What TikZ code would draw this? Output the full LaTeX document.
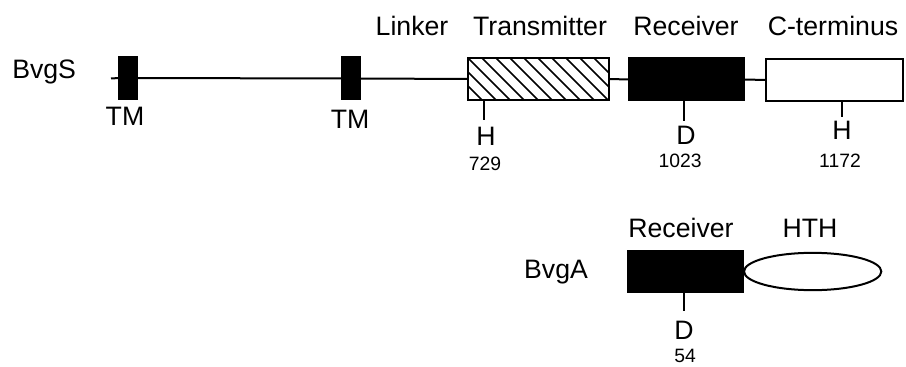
\documentclass[tikz,border=0pt]{standalone}
\usepackage{fontspec}
\setmainfont{Liberation Sans}
\usetikzlibrary{shapes.geometric}
\begin{document}
\begin{tikzpicture}[x=0.75pt,y=-0.75pt,
  lbl/.style={font=\fontsize{20}{24}\selectfont,inner sep=0pt,anchor=base},
  num/.style={font=\fontsize{14.5}{17}\selectfont,inner sep=0pt,anchor=base},
  dom/.style={draw,line width=1.5pt,inner sep=0pt,outer sep=0pt},
  blk/.style={dom,fill=black},
  tick/.style={line width=1.5pt},
  bb/.style={line width=1.5pt}]
\useasboundingbox (0,0) rectangle (906,367);
% BvgS
\node[lbl,anchor=base west] (bvgs) at (12,79) {BvgS};
\coordinate (start) at (111,78.5);
\node[blk,minimum width=13.5pt,minimum height=31.5pt] (tm1) at (128,78) {};
\node[blk,minimum width=13.5pt,minimum height=31.5pt] (tm2) at (351,78.5) {};
\node[dom,fill=white,minimum width=105.75pt,minimum height=31.5pt] (trans) at (538.5,79) {};
\node[blk,minimum width=86.25pt,minimum height=31.5pt] (rec) at (686.5,79.5) {};
\node[dom,fill=white,minimum width=102.75pt,minimum height=31.5pt] (cterm) at (834.5,80) {};
\draw[bb] (start) -- (tm1.west);
\draw[bb] (tm1.east) -- (tm2.west);
\draw[bb] (tm2.east) -- (trans.west);
\draw[bb] (trans.east) -- (rec.west);
\draw[bb] (rec.east) -- (cterm.west);
% hatch
\begin{scope}
\clip (trans.south west) rectangle (trans.north east);
\foreach \i in {-4,...,10} \draw[line width=1.2pt] ([xshift=\i*10.5pt]trans.north west) -- ++(44,44);
\end{scope}
\draw[line width=1.5pt] (trans.south west) rectangle (trans.north east);
% labels
\node[lbl] (linker) at (412,36) {Linker};
\node[lbl] (translbl) at (540,36) {Transmitter};
\node[lbl] (reclbl) at (686,36) {Receiver};
\node[lbl] (ctermlbl) at (833,36) {C-terminus};
\node[lbl] (tm1lbl) at (125,126) {TM};
\node[lbl] (tm2lbl) at (350,129) {TM};
% ticks
\coordinate (t1) at (484,100); \coordinate (t1e) at (484,120);
\draw[tick] (t1) -- (t1e);
\node[lbl] (h1) at (486,146) {H};
\node[num] (n729) at (485,171) {729};
\coordinate (t2) at (684,101); \coordinate (t2e) at (684,121);
\draw[tick] (t2) -- (t2e);
\node[lbl] (d1) at (686,145) {D};
\node[num] (n1023) at (680,168) {1023};
\coordinate (t3) at (842,101); \coordinate (t3e) at (842,117);
\draw[tick] (t3) -- (t3e);
\node[lbl] (h2) at (842,140) {H};
\node[num] (n1172) at (840,167) {1172};
% BvgA
\node[lbl] (bvga) at (556,278) {BvgA};
\node[blk,minimum width=86.25pt,minimum height=30.75pt] (recA) at (685.5,271.5) {};
\node[draw,line width=1.5pt,ellipse,inner sep=0pt,minimum width=103pt,minimum height=28pt,anchor=west] (hth) at (recA.east) {};
\node[lbl] (recAlbl) at (681,237) {Receiver};
\node[lbl] (hthlbl) at (810,237) {HTH};
\coordinate (t4) at (684,292); \coordinate (t4e) at (684,311);
\draw[tick] (t4) -- (t4e);
\node[lbl] (d2) at (684,339) {D};
\node[num] (n54) at (685,362.5) {54};
\end{tikzpicture}
\end{document}
